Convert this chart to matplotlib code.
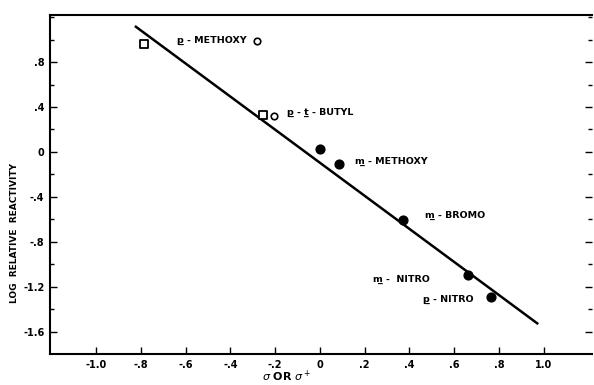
import matplotlib
matplotlib.use("Agg")
import matplotlib.pyplot as plt
import numpy as np

# data
sq_x = [-0.786, -0.254]
sq_y = [0.96, 0.33]
oc_x = [-0.28, -0.205]
oc_y = [0.987, 0.32]
fc_x = [0.0, 0.086, 0.372, 0.662, 0.766]
fc_y = [0.027, -0.11, -0.604, -1.09, -1.29]
line_x = [-0.826, 0.975]
line_y = [1.12, -1.53]

labels = ["p\u0332 - METHOXY", "p\u0332 - t\u0332 - BUTYL", "m\u0332 - METHOXY", "m\u0332 - BROMO", "m\u0332 -  NITRO", "p\u0332 - NITRO"]
label_x = [-0.64, -0.147, 0.157, 0.47, 0.237, 0.46]
label_y = [0.99, 0.35, -0.08, -0.56, -1.13, -1.31]

xticks = [-1.0, -0.8, -0.6, -0.4, -0.2, 0, 0.2, 0.4, 0.6, 0.8, 1.0]
xticklabels = ["-1.0", "-.8", "-.6", "-.4", "-.2", "0", ".2", ".4", ".6", ".8", "1.0"]
yticks = [0.8, 0.4, 0, -0.4, -0.8, -1.2, -1.6]
yticklabels = [".8", ".4", "0", "-.4", "-.8", "-1.2", "-1.6"]

plt.rcParams['font.family'] = ['DejaVu Sans']
fig = plt.figure(figsize=(5.94, 3.85), dpi=100)
ax = fig.add_axes([50/594, 1-354/385, 542/594, (354-15)/385])
ax.set_xlim(-1.205, 1.215)
ax.set_ylim(-1.796, 1.218)

ax.plot(line_x, line_y, color='black', lw=1.8, solid_capstyle='butt')
ax.scatter(sq_x, sq_y, marker='s', s=28, facecolors='white', edgecolors='black', linewidths=1.3, zorder=3)
ax.scatter(oc_x, oc_y, marker='o', s=22, facecolors='white', edgecolors='black', linewidths=1.2, zorder=3)
ax.scatter(fc_x, fc_y, marker='o', s=40, color='black', zorder=3)

for t, x, y in zip(labels, label_x, label_y):
    ax.text(x, y, t, fontsize=6.8, fontweight='bold', ha='left', va='center')

ax.set_xticks(xticks)
ax.set_xticklabels(xticklabels, fontsize=7, fontweight='bold')
ax.set_yticks(yticks)
ax.set_yticklabels(yticklabels, fontsize=7, fontweight='bold')
ax.set_yticks(np.arange(-1.6, 1.21, 0.2), minor=True)
ax.tick_params(axis='both', which='major', direction='in', length=5, width=1, pad=4)
ax.tick_params(axis='y', which='minor', direction='in', length=3, width=1, right=True)
ax.tick_params(axis='y', which='major', right=True)
ax.spines['right'].set_visible(False)
for s in ['left', 'bottom', 'top']:
    ax.spines[s].set_linewidth(1.5)

fig.text(287/594, 1-376/385, r"$\sigma$ OR $\sigma^+$", fontsize=8, fontweight='bold', ha='center', va='center')
fig.text(15/594, 1-233/385, "LOG  RELATIVE  REACTIVITY", fontsize=6.5, fontweight='bold', rotation=90, ha='center', va='center')

fig.savefig("out.png", dpi=100)
